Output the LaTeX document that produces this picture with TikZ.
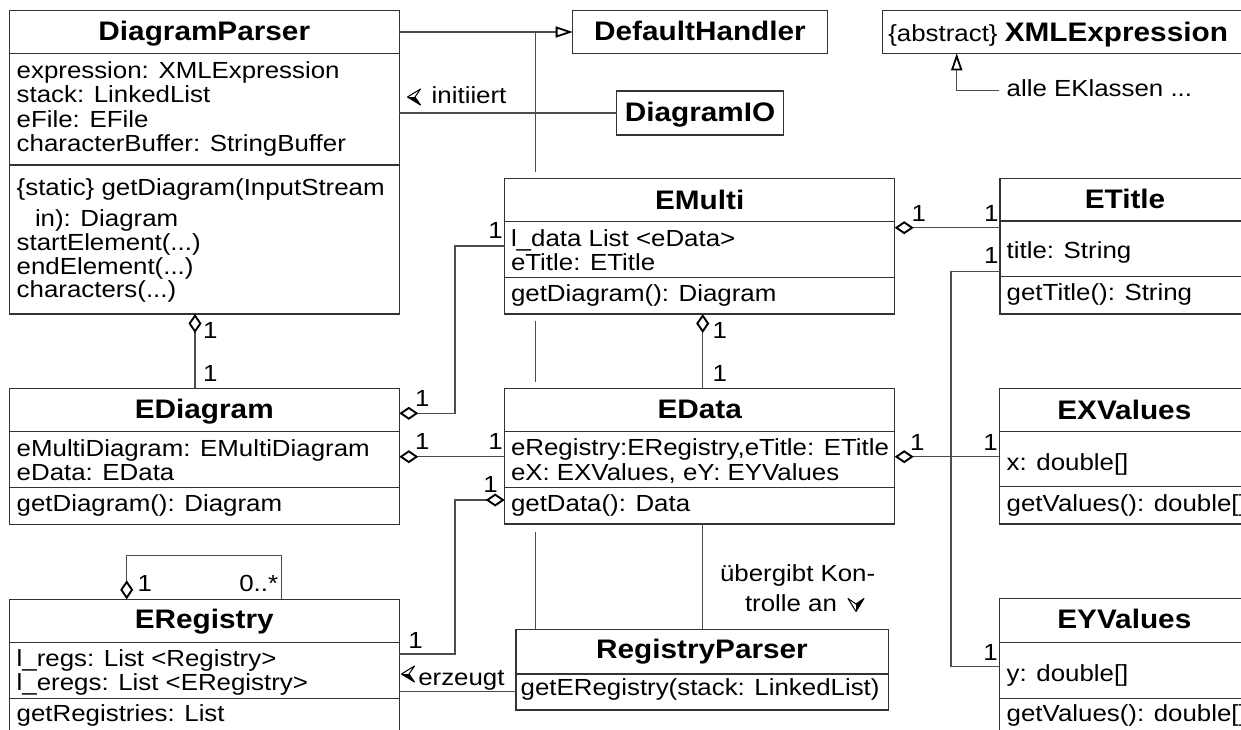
\documentclass[tikz,border=0pt]{standalone}
\usepackage{fontspec}
\setmainfont{Liberation Sans}[FakeStretch=1.11]
\usetikzlibrary{arrows.meta}

\newcommand\ubody{\fontsize{23.3pt}{24.4pt}\selectfont}
\newcommand\utitle{\fontsize{26.8pt}{28pt}\selectfont\bfseries}

\tikzset{
  box/.style={draw=black!80, line width=1.2pt, inner sep=0pt, outer sep=0pt, fill=white, anchor=north west},
  sepline/.style={draw=black!80, line width=1.2pt},
  conn/.style={draw=black!70, line width=1.2pt},
  agg/.style={conn, {Diamond[open, length=19pt, width=13pt, line width=1.9pt, color=black]}-},
  inh/.style={conn, -{Triangle[open, length=17pt, width=11pt, line width=1.8pt, color=black]}},
  txt/.style={inner sep=0pt, outer sep=0pt, font=\ubody, anchor=base west},
  ttl/.style={inner sep=0pt, outer sep=0pt, font=\utitle, anchor=base},
  navhead/.pic={
    \draw[line width=1pt, line join=round] (0,0) -- (13,-8) -- (7.5,0) -- (13,8) -- cycle;
    \fill (0,0) -- (7.5,0) -- (13,8) -- cycle;
  }
}

\begin{document}
\begin{tikzpicture}[x=1pt, y=-1pt]
\useasboundingbox (0,0) rectangle (1241,729);
\fill[white] (0,0) rectangle (1241,729);
\clip (0,0) rectangle (1241,729);

% helper columns and rows for connector routing
\coordinate (cInh) at (535.7,0);
\coordinate (c195) at (195,0);
\coordinate (c455) at (455,0);
\coordinate (c126) at (126.7,0);
\coordinate (c281) at (281.7,0);
\coordinate (c702) at (702.7,0);
\coordinate (c951) at (951,0);
\coordinate (cXml) at (956.7,0);
\coordinate (r227) at (0,227.7);
\coordinate (r246) at (0,246);
\coordinate (r271) at (0,271.7);
\coordinate (r413) at (0,413.3);
\coordinate (r456) at (0,456.7);
\coordinate (r500) at (0,500);
\coordinate (r555) at (0,555.7);
\coordinate (r654) at (0,654);
\coordinate (r666) at (0,666.7);
\coordinate (r691) at (0,691.7);
\coordinate (alle) at (999.3,90.7);

% ---------- class boxes ----------
\node[box, minimum width=390pt, minimum height=303.3pt] (dp) at (9.3,10.7) {};
\draw[sepline] (dp.west |- 0,53.3) -- (dp.east |- 0,53.3);
\draw[sepline] (dp.west |- 0,165) -- (dp.east |- 0,165);

\node[box, minimum width=254.6pt, minimum height=42.6pt] (dh) at (572.7,10.7) {};
\node[box, minimum width=166.6pt, minimum height=44pt] (dio) at (616.7,91) {};
\node[box, minimum width=400pt, minimum height=42.6pt] (xml) at (882.3,10.7) {};

\node[box, minimum width=390pt, minimum height=135.7pt] (em) at (504.7,178.3) {};
\draw[sepline] (em.west |- 0,221.7) -- (em.east |- 0,221.7);
\draw[sepline] (em.west |- 0,277.3) -- (em.east |- 0,277.3);

\node[box, minimum width=250pt, minimum height=135.7pt] (et) at (1000,178.3) {};
\draw[sepline] (et.west |- 0,221) -- (et.east |- 0,221);
\draw[sepline] (et.west |- 0,276.7) -- (et.east |- 0,276.7);

\node[box, minimum width=390pt, minimum height=136pt] (edg) at (9.3,388.3) {};
\draw[sepline] (edg.west |- 0,431.7) -- (edg.east |- 0,431.7);
\draw[sepline] (edg.west |- 0,487.7) -- (edg.east |- 0,487.7);

\node[box, minimum width=390pt, minimum height=135.3pt] (ed) at (504.7,388.7) {};
\draw[sepline] (ed.west |- 0,431.7) -- (ed.east |- 0,431.7);
\draw[sepline] (ed.west |- 0,487.7) -- (ed.east |- 0,487.7);

\node[box, minimum width=250pt, minimum height=135.7pt] (ex) at (999.3,388.3) {};
\draw[sepline] (ex.west |- 0,431.7) -- (ex.east |- 0,431.7);
\draw[sepline] (ex.west |- 0,486.7) -- (ex.east |- 0,486.7);

\node[box, minimum width=390pt, minimum height=200pt] (er) at (9.3,599.3) {};
\draw[sepline] (er.west |- 0,642.3) -- (er.east |- 0,642.3);
\draw[sepline] (er.west |- 0,698.3) -- (er.east |- 0,698.3);

\node[box, minimum width=372.3pt, minimum height=80.7pt] (rp) at (516,629.3) {};
\draw[sepline] (rp.west |- 0,674) -- (rp.east |- 0,674);

\node[box, minimum width=250pt, minimum height=200pt] (ey) at (999.3,598.3) {};
\draw[sepline] (ey.west |- 0,642.3) -- (ey.east |- 0,642.3);
\draw[sepline] (ey.west |- 0,698.3) -- (ey.east |- 0,698.3);

% ---------- class texts ----------
\node[ttl] (dpT) at (204.3,40.7) {DiagramParser};
\node[txt] (dpA1) at (16.7,78.3) {expression: XMLExpression};
\node[txt] (dpA2) at (16.7,102.7) {stack: LinkedList};
\node[txt] (dpA3) at (16.7,127.3) {eFile: EFile};
\node[txt] (dpA4) at (16.7,151.7) {characterBuffer: StringBuffer};
\node[txt] (dpM1) at (16.7,195) {\{static\} getDiagram(InputStream};
\node[txt] (dpM2) at (35,226.7) {in): Diagram};
\node[txt] (dpM3) at (16.7,250.7) {startElement(...)};
\node[txt] (dpM4) at (16.7,274.3) {endElement(...)};
\node[txt] (dpM5) at (16.7,297.7) {characters(...)};

\node[ttl] (dhT) at (700,40.7) {DefaultHandler};
\node[ttl] (dioT) at (700,121.7) {DiagramIO};
\node[txt] (xmlT) at (888.3,41.7) {\{abstract\} {\utitle XMLExpression}};
\node[txt] (alleT) at (1006.7,96.7) {alle EKlassen ...};

\node[ttl] (emT) at (699.7,209.3) {EMulti};
\node[txt] (emA1) at (511,246) {l\_data List <eData>};
\node[txt] (emA2) at (511,270) {eTitle: ETitle};
\node[txt] (emM1) at (511,301) {getDiagram(): Diagram};

\node[ttl] (etT) at (1125,208.3) {ETitle};
\node[txt] (etA1) at (1006.7,258.3) {title: String};
\node[txt] (etM1) at (1006.7,300) {getTitle(): String};

\node[ttl] (edgT) at (204.3,418.3) {EDiagram};
\node[txt] (edgA1) at (16.7,456) {eMultiDiagram: EMultiDiagram};
\node[txt] (edgA2) at (16.7,480) {eData: EData};
\node[txt] (edgM1) at (16.7,511.7) {getDiagram(): Diagram};

\node[ttl] (edT) at (699.7,418.3) {EData};
\node[txt] (edA1) at (511,455) {eRegistry:ERegistry,eTitle: ETitle};
\node[txt] (edA2) at (511,480) {eX: EXValues, eY: EYValues};
\node[txt] (edM1) at (511,511.7) {getData(): Data};

\node[ttl] (exT) at (1124.3,419.3) {EXValues};
\node[txt] (exA1) at (1006.7,470) {x: double[]};
\node[txt] (exM1) at (1006.7,511.7) {getValues(): double[]};

\node[ttl] (erT) at (204.3,628.3) {ERegistry};
\node[txt] (erA1) at (16.7,666.7) {l\_regs: List <Registry>};
\node[txt] (erA2) at (16.7,690) {l\_eregs: List <ERegistry>};
\node[txt] (erM1) at (16.7,721.7) {getRegistries: List};

\node[ttl] (rpT) at (702,658.3) {RegistryParser};
\node[txt] (rpM1) at (520.7,695) {getERegistry(stack: LinkedList)};

\node[ttl] (eyT) at (1124.3,628.3) {EYValues};
\node[txt] (eyA1) at (1006.7,681.7) {y: double[]};
\node[txt] (eyM1) at (1006.7,721.7) {getValues(): double[]};

% ---------- connectors ----------
% generalisation to DefaultHandler, running behind EMulti and EData
\draw[inh] (dp.east |- dh.west) -- (dh.west);
\draw[conn] (cInh |- dh.west) -- ([yshift=6.6pt]cInh |- em.north);
\draw[conn] ([yshift=-6.7pt]cInh |- em.south) -- ([yshift=7pt]cInh |- ed.north);
\draw[conn] ([yshift=-7.7pt]cInh |- ed.south) -- (cInh |- rp.north);

% generalisation to XMLExpression
\draw[inh] (alle) -| (cXml |- xml.south);

% initiiert
\draw[conn] (dp.east |- dio.west) -- (dio.west);

% aggregations
\draw[agg] (dp.south -| c195) -- (edg.north -| c195);
\draw[agg] (edg.east |- r413) -| (c455 |- r246) -- (em.west |- r246);
\draw[agg] (edg.east |- r456) -- (ed.west |- r456);
\draw[agg] (ed.west |- r500) -| (c455 |- r654) -- (er.east |- r654);
\draw[agg] (er.north -| c126) -- (c126 |- r555) -| (c281 |- er.north);
\draw[agg] (em.south -| c702) -- (ed.north -| c702);
\draw[agg] (em.east |- r227) -- (et.west |- r227);
\draw[agg] (ed.east |- r456) -- (ex.west |- r456);
\draw[conn] (et.west |- r271) -| (c951 |- r666) -- (ey.west |- r666);

% erzeugt / uebergibt Kontrolle
\draw[conn] (er.east |- r691) -- (rp.west |- r691);
\draw[conn] (ed.south -| c702) -- (rp.north -| c702);

% ---------- association labels ----------
\pic at (407.5,97) {navhead};
\node[txt] (lInit) at (431.7,103.3) {initiiert};
\pic at (401.5,674) {navhead};
\node[txt] (lErz) at (418.3,685) {erzeugt};
\node[txt] (lUeb1) at (720,581.7) {übergibt Kon-};
\node[txt] (lUeb2) at (745,611.7) {trolle an};
\pic[rotate=90] at (856,611.5) {navhead};

% ---------- multiplicities ----------
\node[txt] (m1) at (203,338.3) {1};
\node[txt] (m2) at (203,381.7) {1};
\node[txt] (m3) at (415,406) {1};
\node[txt] (m4) at (488.3,238.3) {1};
\node[txt] (m5) at (415,449.3) {1};
\node[txt] (m6) at (488.3,449.3) {1};
\node[txt] (m7) at (483.3,492) {1};
\node[txt] (m8) at (408.3,648.3) {1};
\node[txt] (m9) at (137.7,591.7) {1};
\node[txt] (m10) at (239.3,591.7) {0..*};
\node[txt] (m11) at (712.7,338.3) {1};
\node[txt] (m12) at (712.7,381.7) {1};
\node[txt] (m13) at (911.7,221) {1};
\node[txt] (m14) at (984,221) {1};
\node[txt] (m15) at (984,263.3) {1};
\node[txt] (m16) at (910,450) {1};
\node[txt] (m17) at (983.3,450) {1};
\node[txt] (m18) at (983.3,660) {1};
\end{tikzpicture}
\end{document}
